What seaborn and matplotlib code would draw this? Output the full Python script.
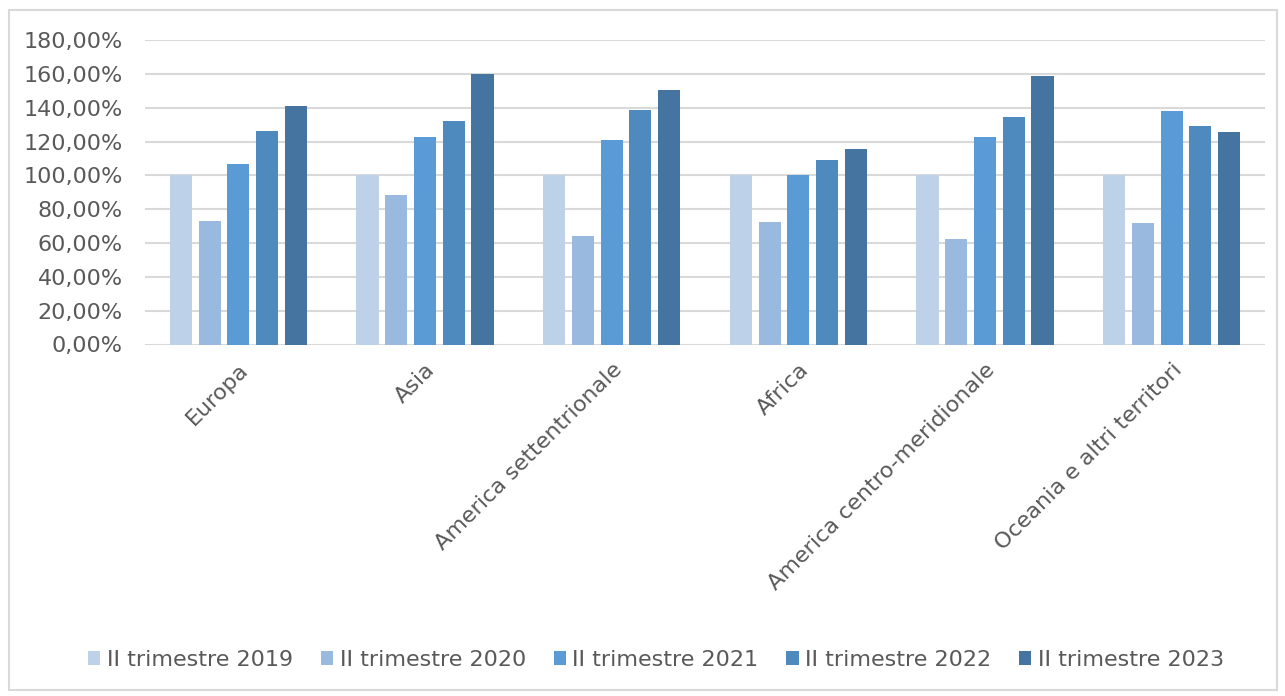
import matplotlib
matplotlib.use("Agg")
import matplotlib.pyplot as plt
import seaborn as sns
import pandas as pd
from matplotlib.patches import Rectangle, Patch
from matplotlib.ticker import FuncFormatter

categories = ["Europa", "Asia", "America settentrionale", "Africa",
              "America centro-meridionale", "Oceania e altri territori"]
series_names = ["II trimestre 2019", "II trimestre 2020", "II trimestre 2021",
                "II trimestre 2022", "II trimestre 2023"]
v2019 = [100.0, 100.0, 100.0, 100.0, 100.0, 100.0]
v2020 = [73.0, 88.4, 64.3, 72.2, 62.1, 71.6]
v2021 = [106.5, 122.5, 120.7, 100.2, 122.7, 138.1]
v2022 = [126.4, 132.1, 138.7, 108.9, 134.5, 129.0]
v2023 = [140.8, 160.0, 150.5, 115.4, 158.6, 125.4]
yticks = [0, 20, 40, 60, 80, 100, 120, 140, 160, 180]

colors = ["#BDD1E9", "#99B9DF", "#5B9BD5", "#4F8ABE", "#44749F"]

rows = []
for s, vals in zip(series_names, [v2019, v2020, v2021, v2022, v2023]):
    for c, v in zip(categories, vals):
        rows.append({"cat": c, "serie": s, "val": v})
df = pd.DataFrame(rows)

sns.set_theme(style="white")
plt.rcParams["font.family"] = ["DejaVu Sans"]

fig = plt.figure(figsize=(12.85, 6.96), dpi=100)
ax = fig.add_axes([145/1285, 1-344.5/696, (1265-145)/1285, (344.5-40)/696])

sns.barplot(data=df, x="cat", y="val", hue="serie", order=categories,
            hue_order=series_names, palette=colors, width=0.77, saturation=1,
            ax=ax, legend=False)

for p in ax.patches:
    w = p.get_width()
    nw = w * 0.77
    p.set_x(p.get_x() + (w - nw) / 2)
    p.set_width(nw)
    p.set_edgecolor("none")

ax.set_ylim(0, 180)
ax.set_xlim(-0.5, len(categories) - 0.5)
ax.set_yticks(yticks)
ax.yaxis.set_major_formatter(FuncFormatter(lambda v, _: f"{v:.2f}".replace(".", ",") + "%"))
ax.grid(axis="y", color="#D9D9D9", linewidth=1.5)
ax.set_axisbelow(True)
for sp in ax.spines.values():
    sp.set_visible(False)
ax.tick_params(axis="both", length=0, colors="#595959", labelsize=16)
ax.tick_params(axis="y", pad=16)
ax.set_xlabel("")
ax.set_ylabel("")
for lbl in ax.get_xticklabels():
    lbl.set_rotation(45)
    lbl.set_ha("right")
    lbl.set_va("top")
    lbl.set_rotation_mode("anchor")
    lbl.set_color("#595959")
ax.tick_params(axis="x", pad=11)

handles = [Patch(facecolor=c, edgecolor="none") for c in colors]
fig.legend(handles, series_names, loc="center", bbox_to_anchor=(656/1285, 1-660/696),
           ncol=5, frameon=False, fontsize=16, handlelength=0.55, handleheight=0.55,
           handletextpad=0.3, columnspacing=1.25, labelcolor="#595959")

fig.patches.append(Rectangle((9/1285, 1-690/696), (1277-9)/1285, (690-10)/696,
                             transform=fig.transFigure, fill=False,
                             edgecolor="#D9D9D9", linewidth=1.5))

fig.savefig("out.png", dpi=100, facecolor="white")
